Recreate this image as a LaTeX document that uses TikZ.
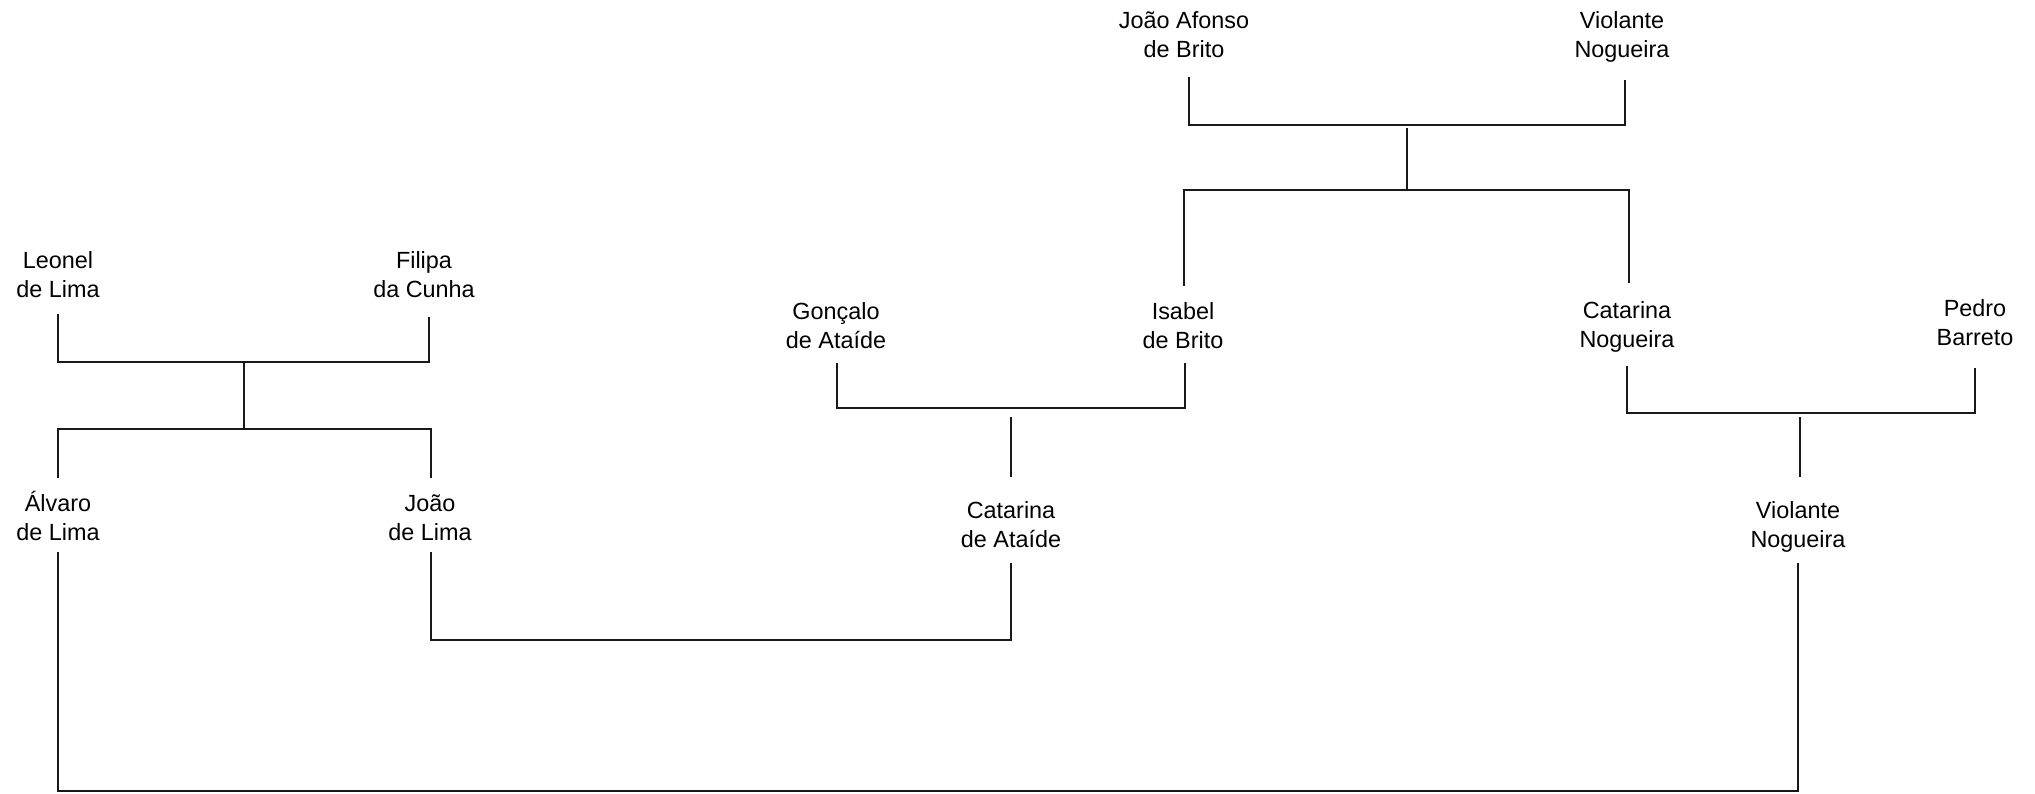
\documentclass[tikz,border=0pt]{standalone}
\usepackage{fontspec}
\setmainfont{Liberation Sans}
\begin{document}
\begin{tikzpicture}[x=0.5pt,y=-0.5pt,
  person/.style={inner sep=0pt,align=center,font=\fontsize{11.7}{14.4}\selectfont},
  link/.style={line width=0.6pt,black!90,line cap=butt,line join=miter}]
\useasboundingbox (0,0) rectangle (2035,793);
% persons
\node[person] (ja)  at (1184,37.5) {\strut João Afonso\\\strut de Brito};
\node[person] (vn1) at (1622,37.5) {\strut Violante\\\strut Nogueira};
\node[person] (ln)  at (58,277) {\strut Leonel\\\strut de Lima};
\node[person] (fc)  at (424,277) {\strut Filipa\\\strut da Cunha};
\node[person] (ga)  at (836,328) {\strut Gonçalo\\\strut de Ataíde};
\node[person] (ib)  at (1183,328) {\strut Isabel\\\strut de Brito};
\node[person] (cn)  at (1627,327) {\strut Catarina\\\strut Nogueira};
\node[person] (pb)  at (1975,325) {\strut Pedro\\\strut Barreto};
\node[person] (al)  at (58,520) {\strut Álvaro\\\strut de Lima};
\node[person] (jl)  at (430,520) {\strut João\\\strut de Lima};
\node[person] (ca)  at (1011,527) {\strut Catarina\\\strut de Ataíde};
\node[person] (vn2) at (1798,527) {\strut Violante\\\strut Nogueira};
% line end points
\coordinate (ja-b) at (1189,77);   \coordinate (vn1-b) at (1625,80);
\coordinate (c1a) at (1189,125);   \coordinate (c1b) at (1625,125);
\coordinate (c1m) at (1407,128);   \coordinate (s1m) at (1407,190);
\coordinate (s1a) at (1184,190);   \coordinate (s1b) at (1629,190);
\coordinate (ib-t) at (1184,286);  \coordinate (cn-t) at (1629,283);
\coordinate (ln-b) at (58,314);    \coordinate (fc-b) at (429,317);
\coordinate (c2a) at (58,362);     \coordinate (c2b) at (429,362);
\coordinate (c2m) at (244,362);    \coordinate (s2m) at (244,429);
\coordinate (s2a) at (58,429);     \coordinate (s2b) at (431,429);
\coordinate (al-t) at (58,478);    \coordinate (jl-t) at (431,478);
\coordinate (ga-b) at (837,363);   \coordinate (ib-b) at (1185,363);
\coordinate (c3a) at (837,408);    \coordinate (c3b) at (1185,408);
\coordinate (c3m) at (1011,417);   \coordinate (ca-t) at (1011,477);
\coordinate (cn-b) at (1627,366);  \coordinate (pb-b) at (1975,368);
\coordinate (c4a) at (1627,413);   \coordinate (c4b) at (1975,413);
\coordinate (c4m) at (1800,417);   \coordinate (vn2-t) at (1800,477);
\coordinate (jl-b) at (431,552);   \coordinate (ca-b) at (1011,563);
\coordinate (c5a) at (431,640);    \coordinate (c5b) at (1011,640);
\coordinate (al-b) at (58,552);    \coordinate (vn2-b) at (1798,563);
\coordinate (c6a) at (58,791);     \coordinate (c6b) at (1798,791);
% connectors
\draw[link] (ja-b) -- (c1a) -- (c1b) -- (vn1-b);
\draw[link] (c1m) -- (s1m);
\draw[link] (ib-t) -- (s1a) -- (s1b) -- (cn-t);
\draw[link] (ln-b) -- (c2a) -- (c2b) -- (fc-b);
\draw[link] (c2m) -- (s2m);
\draw[link] (al-t) -- (s2a) -- (s2b) -- (jl-t);
\draw[link] (ga-b) -- (c3a) -- (c3b) -- (ib-b);
\draw[link] (c3m) -- (ca-t);
\draw[link] (cn-b) -- (c4a) -- (c4b) -- (pb-b);
\draw[link] (c4m) -- (vn2-t);
\draw[link] (jl-b) -- (c5a) -- (c5b) -- (ca-b);
\draw[link] (al-b) -- (c6a) -- (c6b) -- (vn2-b);
\end{tikzpicture}
\end{document}
